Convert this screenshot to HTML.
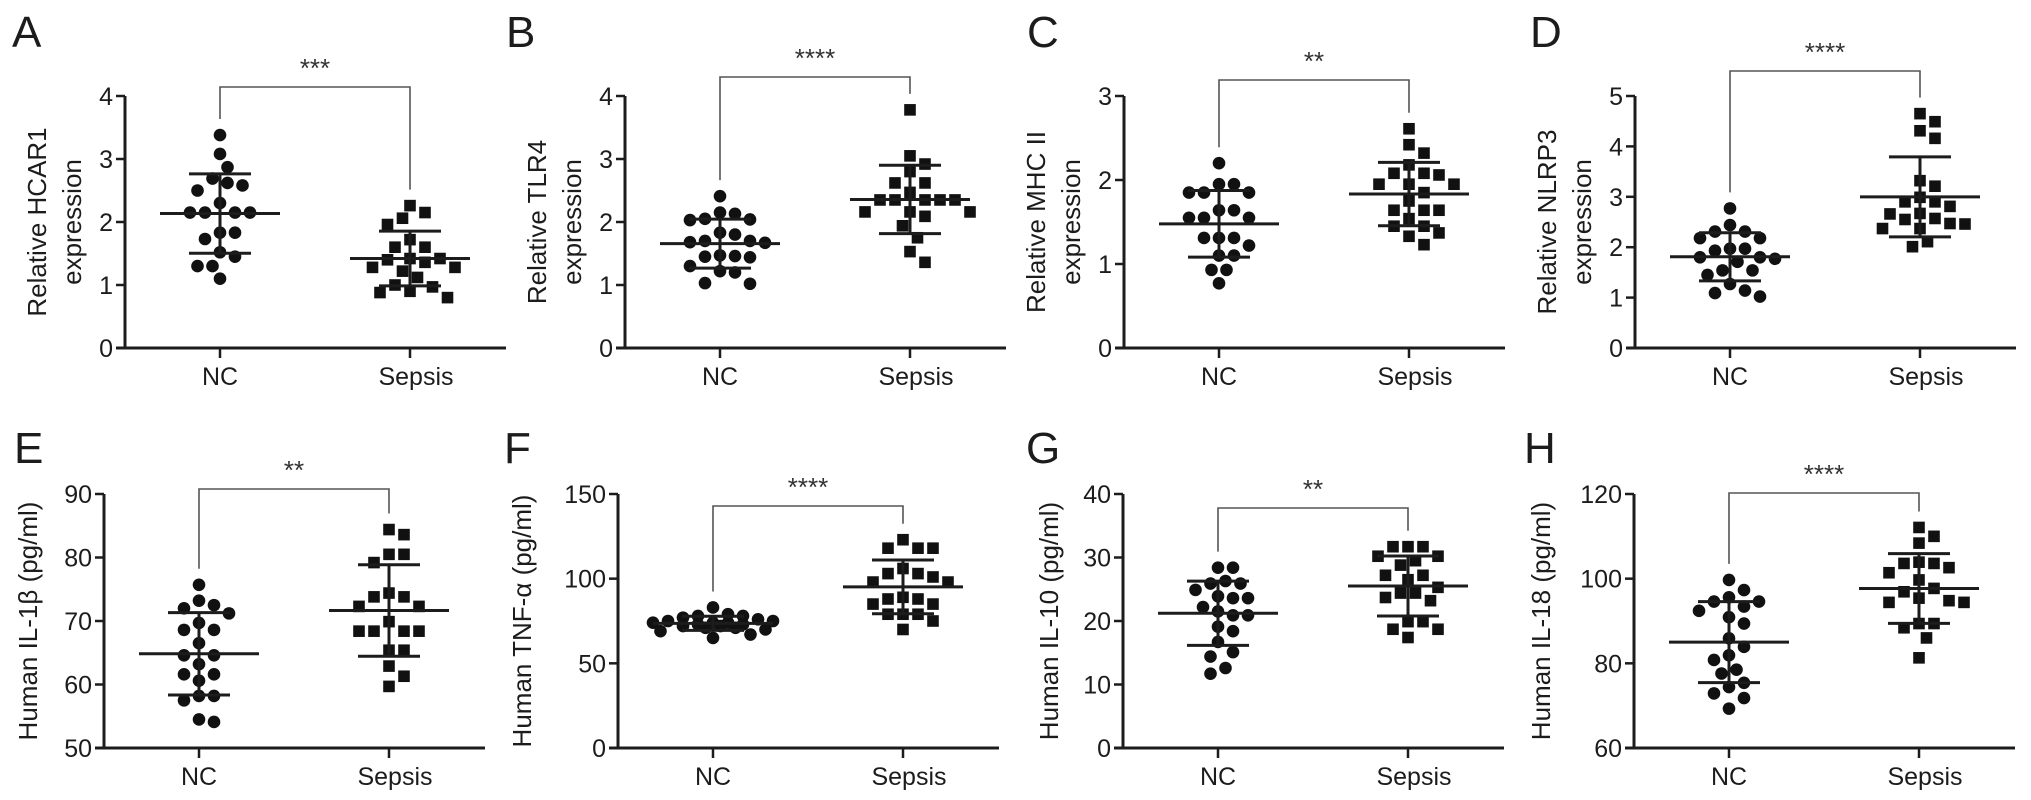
<!DOCTYPE html>
<html><head><meta charset="utf-8">
<style>
html,body{margin:0;padding:0;background:#fff;}
svg{display:block;font-family:"Liberation Sans",Arial,sans-serif;}
</style></head>
<body>
<svg id="fig" width="2031" height="800" viewBox="0 0 2031 800" xmlns="http://www.w3.org/2000/svg"></svg>
<script>
// ---- data ----
const groups = ["NC", "Sepsis"];
const aNC = [3.38,3.08,2.87,2.69,2.62,2.58,2.5,2.3,2.15,2.15,2.15,2.15,1.83,1.83,1.73,1.52,1.45,1.3,1.3,1.1];
const aSepsis = [2.26,2.15,2.06,1.96,1.72,1.6,1.6,1.42,1.42,1.4,1.36,1.28,1.28,1.22,1.12,1.0,0.97,0.9,0.88,0.8];
const aTicks = [0,1,2,3,4];
const bNC = [2.41,2.15,2.13,2.05,2.03,2.04,1.83,1.8,1.7,1.68,1.7,1.67,1.47,1.45,1.46,1.44,1.3,1.22,1.2,1.03,1.02];
const bSepsis = [3.78,3.05,2.92,2.8,2.62,2.62,2.47,2.35,2.35,2.35,2.35,2.35,2.16,2.16,2.16,2.09,1.94,1.75,1.53,1.36];
const bTicks = [0,1,2,3,4];
const cNC = [2.2,1.95,1.95,1.85,1.85,1.85,1.64,1.64,1.55,1.55,1.55,1.31,1.31,1.31,1.22,1.1,1.1,0.93,0.93,0.77];
const cSepsis = [2.61,2.42,2.32,2.18,2.08,2.08,2.06,1.95,1.95,1.95,1.85,1.75,1.64,1.64,1.64,1.54,1.45,1.45,1.37,1.33,1.23];
const cTicks = [0,1,2,3];
const dNC = [2.77,2.44,2.31,2.31,2.18,2.18,1.97,1.97,1.93,1.8,1.8,1.77,1.71,1.54,1.54,1.45,1.27,1.14,1.09,1.02];
const dSepsis = [4.65,4.49,4.31,4.16,3.32,3.21,2.99,2.9,2.9,2.81,2.67,2.66,2.57,2.55,2.47,2.46,2.37,2.37,2.11,2.01];
const dTicks = [0,1,2,3,4,5];
const eNC = [75.7,73.2,72.5,72,71.2,69.7,68.6,68.6,66.5,64.6,64.6,63.2,61.6,61.6,60.6,58.2,58.2,57.5,54.5,54.1];
const eSepsis = [84.4,83.6,80.5,80.5,79.2,74.4,73.8,73.8,72.3,72.3,69.9,68.4,68.4,68.4,68.4,65.4,65.4,62.9,61.3,59.7];
const eTicks = [50,60,70,80,90];
const fNC = [83,79,78,77,78,76,75,75,74,74,74,73,73,72,72,71,71,70,69,67,65];
const fSepsis = [123,118,118,118,106,103,103,101,98,98,89,88,88,85,85,79,79,79,75,70];
const fTicks = [0,50,100,150];
const gNC = [28.4,28.4,25.9,25.9,26.3,24.9,23.9,23.6,23.6,22.2,21.5,20.9,20.9,19.1,18.4,16.7,15.1,14.4,12.6,11.7];
const gSepsis = [31.7,31.7,31.7,30.2,30.2,29.5,28.8,27.2,27.2,26.5,25.3,24.4,24.4,23.7,23.2,19.9,19.9,18.7,18.7,17.4];
const gTicks = [0,10,20,30,40];
const hNC = [99.7,97.3,95.6,94.6,94.6,93.4,92.4,90.9,89.4,85.9,83.9,81.9,80.8,78.5,77.6,75.4,74.4,72.9,71.8,69.3];
const hSepsis = [112.1,110,108.4,103.6,103.6,103.9,102.6,101.4,99.7,97.7,96.9,95.4,94.8,94.4,94.4,89.4,89.4,88.4,86,81.3];
const hTicks = [60,80,100,120];
const stars = ["***","****","**","****","**","****","**","****"];

// ---- layout ----
const panels = [
 {id:"a",L:"A",nc:aNC,sp:aSepsis,ticks:aTicks,ax:125,top:96,bot:348,lx:12,ly:47,title:["Relative HCAR1","expression"],br:87},
 {id:"b",L:"B",nc:bNC,sp:bSepsis,ticks:bTicks,ax:625,top:96,bot:348,lx:506,ly:47,title:["Relative TLR4","expression"],br:77},
 {id:"c",L:"C",nc:cNC,sp:cSepsis,ticks:cTicks,ax:1124,top:96,bot:348,lx:1027,ly:47,title:["Relative MHC II","expression"],br:80},
 {id:"d",L:"D",nc:dNC,sp:dSepsis,ticks:dTicks,ax:1635,top:96,bot:348,lx:1530,ly:47,title:["Relative NLRP3","expression"],br:71},
 {id:"e",L:"E",nc:eNC,sp:eSepsis,ticks:eTicks,ax:104,top:494,bot:748,lx:14,ly:463,title:["Human IL-1\u03b2 (pg/ml)"],tx:28,br:489},
 {id:"f",L:"F",nc:fNC,sp:fSepsis,ticks:fTicks,ax:618,top:494,bot:748,lx:504,ly:463,title:["Human TNF-\u03b1 (pg/ml)"],tx:522,br:506},
 {id:"g",L:"G",nc:gNC,sp:gSepsis,ticks:gTicks,ax:1123,top:494,bot:748,lx:1026,ly:463,title:["Human IL-10 (pg/ml)"],tx:1049,br:508},
 {id:"h",L:"H",nc:hNC,sp:hSepsis,ticks:hTicks,ax:1634,top:494,bot:748,lx:1524,ly:463,title:["Human IL-18 (pg/ml)"],tx:1541,br:493}
];
const NS="http://www.w3.org/2000/svg";
const svg=document.getElementById("fig");
const INK="#1c1c1c";
function mk(tag,attrs,parent){const e=document.createElementNS(NS,tag);for(const k in attrs)e.setAttribute(k,attrs[k]);(parent||svg).appendChild(e);return e;}
function mean(a){return a.reduce((s,v)=>s+v,0)/a.length;}
function sd(a){const m=mean(a);return Math.sqrt(a.reduce((s,v)=>s+(v-m)*(v-m),0)/(a.length-1));}

// beeswarm with limited half-width; relaxes spacing when crowded
function swarm(vals,yS,cx,d,maxW){
  const order=vals.map((v,i)=>i).sort((i,j)=>vals[j]-vals[i]);
  const placed=[];const out=new Array(vals.length);
  const step=d*0.5;
  const cands=[0];for(let k=1;k*step<=maxW;k++){cands.push(k*step,-k*step);}
  for(const i of order){
    const y=yS(vals[i]);
    let done=false;
    for(let f=1;f>0.2&&!done;f-=0.15){
      const dd=d*f;
      for(const off of cands){
        const x=cx+off;
        if(placed.every(p=>(p.x-x)*(p.x-x)+(p.y-y)*(p.y-y)>=dd*dd*0.95)){placed.push({x,y});out[i]={x,y};done=true;break;}
      }
    }
    if(!done){placed.push({x:cx,y});out[i]={x:cx,y};}
  }
  return out;
}

panels.forEach((P,pi)=>{
  const g=mk("g",{});
  
  
  const tmin=P.ticks[0],tmax=P.ticks[P.ticks.length-1];
  const yS=v=>P.bot-(v-tmin)/(tmax-tmin)*(P.bot-P.top);
  const xNC=P.ax+95,xSp=P.ax+285,xEnd=P.ax+381;
  const xs=[xNC,xSp];
  const lt=mk("text",{x:P.lx,y:P.ly,"font-size":44,fill:INK},g);lt.textContent=P.L;
  
  
  const ya=mk("line",{x1:P.ax,y1:P.top,x2:P.ax,y2:P.bot+1.5,stroke:INK,"stroke-width":3},g);
  
  
  const xa=mk("line",{x1:P.ax-9,y1:P.bot,x2:xEnd,y2:P.bot,stroke:INK,"stroke-width":3},g);
  
  
  P.ticks.forEach(t=>{
    const y=yS(t);
    mk("line",{x1:P.ax-9,y1:y,x2:P.ax,y2:y,stroke:INK,"stroke-width":2.5},g);
    const tl=mk("text",{x:P.ax-12,y:y+9,"font-size":25,"text-anchor":"end",fill:INK},g);tl.textContent=t;
    
    
  });
  groups.forEach((name,gi)=>{
    mk("line",{x1:xs[gi],y1:P.bot,x2:xs[gi],y2:P.bot+10,stroke:INK,"stroke-width":2.5},g);
    const xl=mk("text",{x:xs[gi]+(gi?6:0),y:P.bot+37,"font-size":25,"text-anchor":"middle",fill:INK},g);xl.textContent=name;
    
    
  });
  const midY=(P.top+P.bot)/2;
  if(P.title.length===2){
    [P.ax-88,P.ax-53].forEach((x,k)=>{
      const tt=mk("text",{x:0,y:0,"font-size":26,"text-anchor":"middle","dominant-baseline":"central",fill:INK,transform:`translate(${x},${midY}) rotate(-90)`},g);
      tt.textContent=P.title[k];
      
      
    });
  } else {
    const tt=mk("text",{x:0,y:0,"font-size":26,"text-anchor":"middle","dominant-baseline":"central",fill:INK,transform:`translate(${P.tx},${midY}) rotate(-90)`},g);
    tt.textContent=P.title[0];
    
    
  }
  [P.nc,P.sp].forEach((vals,gi)=>{
    const pts=swarm(vals,yS,xs[gi],15,60);
    pts.forEach(p=>{
      let m;
      if(gi===0){m=mk("circle",{cx:p.x,cy:p.y,r:6.3,fill:"#111"},g);}
      else{m=mk("rect",{x:p.x-5.8,y:p.y-5.8,width:11.6,height:11.6,fill:"#111"},g);}
      
      
    });
    const m=mean(vals),s=sd(vals),cx=xs[gi];
    const ml=mk("line",{x1:cx-60,y1:yS(m),x2:cx+60,y2:yS(m),stroke:INK,"stroke-width":3},g);
    
    
    const eb=mk("path",{d:`M${cx},${yS(m+s)}V${yS(m-s)}M${cx-31},${yS(m+s)}H${cx+31}M${cx-31},${yS(m-s)}H${cx+31}`,stroke:INK,"stroke-width":3,fill:"none"},g);
    
    
  });
  const l1=yS(Math.max(...P.nc))-16,l2=yS(Math.max(...P.sp))-16;
  const bk=mk("path",{d:`M${xNC},${l1}V${P.br}H${xSp}V${l2}`,stroke:"#555",fill:"none","stroke-width":1.6},g);
  
  
  const st=mk("text",{x:(xNC+xSp)/2,y:P.br-10,"font-size":26,"text-anchor":"middle",fill:"#333"},g);st.textContent=stars[pi];
  
  
});
</script>
</body></html>
